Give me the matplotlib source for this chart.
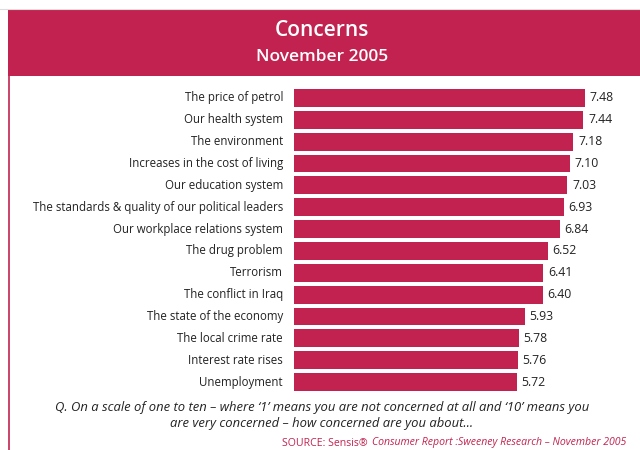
import matplotlib
matplotlib.use("Agg")
from matplotlib import pyplot as plt
from matplotlib.patches import Rectangle
from matplotlib.lines import Line2D

# Concerns survey, November 2005
concerns = [
    "The price of petrol",
    "Our health system",
    "The environment",
    "Increases in the cost of living",
    "Our education system",
    "The standards & quality of our political leaders",
    "Our workplace relations system",
    "The drug problem",
    "Terrorism",
    "The conflict in Iraq",
    "The state of the economy",
    "The local crime rate",
    "Interest rate rises",
    "Unemployment",
]
scores = [7.48, 7.44, 7.18, 7.10, 7.03, 6.93, 6.84, 6.52, 6.41, 6.40, 5.93, 5.78, 5.76, 5.72]

red = "#C2224F"
W, H = 640, 450
font = "Open Sans"

fig = plt.figure(figsize=(6.4, 4.5), dpi=100)
fig.patch.set_facecolor("white")

# header banner and left border
fig.patches.append(Rectangle((8 / W, 1 - 76 / H), 1, 66 / H, transform=fig.transFigure,
                             facecolor=red, edgecolor="none"))
fig.lines.append(Line2D([8.5 / W, 8.5 / W], [0, 1 - 76 / H], transform=fig.transFigure,
                        color=red, lw=1.2))
fig.lines.append(Line2D([0, 1], [1 - 9 / H, 1 - 9 / H], transform=fig.transFigure,
                        color="#dddddd", lw=0.8))
fig.text(322 / W, 1 - 31 / H, "Concerns", color="white", fontsize=15, family=font,
         fontweight="semibold", ha="center", va="center")
fig.text(322 / W, 1 - 57 / H, "November 2005", color="white", fontsize=12.5, family=font,
         fontweight="semibold", ha="center", va="center")

# bars
x0, px_per_unit = 294, 38.9
ax_w = 300
ax = fig.add_axes([x0 / W, 1 - 393 / H, ax_w / W, (393 - 87) / H])
ypos = list(range(len(concerns)))
ax.barh(ypos, scores, height=0.82, color=red)
ax.set_xlim(0, ax_w / px_per_unit)
ax.set_ylim(len(concerns) - 0.5, -0.5)
ax.axis("off")
for y, name, v in zip(ypos, concerns, scores):
    ax.text(-0.28, y, name, ha="right", va="center", fontsize=8.3, family=font,
            color="#222222", clip_on=False)
    ax.text(v + 0.12, y, f"{v:.2f}", ha="left", va="center", fontsize=8.8, family=font,
            color="#222222", clip_on=False)

# question and source
fig.text(322 / W, 1 - 408 / H, "Q. On a scale of one to ten \u2013 where \u20181\u2019 means you are not concerned at all and \u201810\u2019 means you",
         ha="center", va="center", fontsize=9.4, style="italic", family=font, color="#222222")
fig.text(322 / W, 1 - 424 / H, "are very concerned \u2013 how concerned are you about...",
         ha="center", va="center", fontsize=9.4, style="italic", family=font, color="#222222")
src = fig.text(282 / W, 1 - 443 / H, "SOURCE: Sensis\u00ae", ha="left", va="center", fontsize=7.6,
               family=font, color=red)
# put the italic part right after the plain part
fig.canvas.draw()
src_end = src.get_window_extent().x1
fig.text((src_end + 4) / W, 1 - 443 / H, "Consumer Report :Sweeney Research \u2013 November 2005",
         ha="left", va="center", fontsize=7.6, style="italic", family=font, color=red)

fig.savefig("out.png", dpi=100)
